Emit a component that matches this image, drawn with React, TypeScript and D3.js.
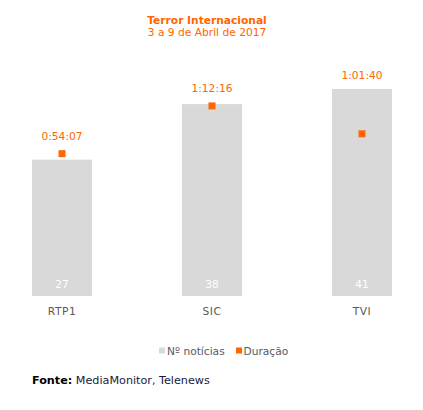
import React from "react";
import * as d3 from "d3";

const categories = ["RTP1", "SIC", "TVI"];
const noticias = [27, 38, 41];
const duracao = ["0:54:07", "1:12:16", "1:01:40"];
const legendLabels = ["Nº notícias", "Duração"];
const title = "Terror Internacional";
const subtitle = "3 a 9 de Abril de 2017";

const toSeconds = (s: string) => {
  const [h, m, sec] = s.split(":").map(Number);
  return h * 3600 + m * 60 + sec;
};

const W = 423;
const H = 410;
const FONT = "'DejaVu Sans', Verdana, sans-serif";
const FS = 10.67;
const ORANGE = "#FF6600";
const GRAY = "#D9D9D9";

export default function App() {
  const x = d3.scaleBand<string>().domain(categories).range([32, 392]).paddingInner(0.6).paddingOuter(0);
  const y = d3.scaleLinear().domain([0, 50]).range([296, 43.5]);
  const y2 = d3.scaleLinear().domain([0, 5760]).range([296, 43.5]);
  const bw = x.bandwidth();

  return (
    <svg width={W} height={H} style={{ position: "absolute", left: 0, top: 0, background: "#fff" }} fontFamily={FONT}>
      <rect x={0} y={0} width={W} height={H} fill="#fff" />
      <text x={207} y={24} textAnchor="middle" fontSize={FS} fontWeight="bold" fill={ORANGE}>{title}</text>
      <text x={207} y={35.5} textAnchor="middle" fontSize={FS} fill={ORANGE}>{subtitle}</text>

      {categories.map((c, i) => {
        const bx = x(c)!;
        const cx = bx + bw / 2;
        const top = y(noticias[i]);
        const my = y2(toSeconds(duracao[i]));
        const ly = Math.min(my - 4, top) - 14;
        return (
          <g key={c}>
            <rect x={bx} y={top} width={bw} height={y(0) - top} fill={GRAY} />
            <text x={cx} y={288} textAnchor="middle" fontSize={FS} fill="#fff">{noticias[i]}</text>
            <text x={cx} y={314.5} textAnchor="middle" fontSize={FS} fill="#595959" letterSpacing={0.5}>{c}</text>
            <rect x={cx - 3.5} y={my - 3.5} width={7} height={7} fill={ORANGE} />
            <text x={cx} y={ly + 4} textAnchor="middle" fontSize={FS} fill={ORANGE}>{duracao[i]}</text>
          </g>
        );
      })}

      <g>
        <rect x={159} y={347.5} width={6} height={6} fill={GRAY} />
        <text x={167} y={354.5} fontSize={FS} fill="#595959">{legendLabels[0]}</text>
        <rect x={236} y={347.5} width={6} height={6} fill={ORANGE} />
        <text x={243.5} y={354.5} fontSize={FS} fill="#595959">{legendLabels[1]}</text>
      </g>

      <text x={32} y={384} fontSize={11.2} fill="#1a1a3a">
        <tspan fontWeight="bold" fill="#000">Fonte:</tspan>
        <tspan> MediaMonitor, Telenews</tspan>
      </text>
    </svg>
  );
}
